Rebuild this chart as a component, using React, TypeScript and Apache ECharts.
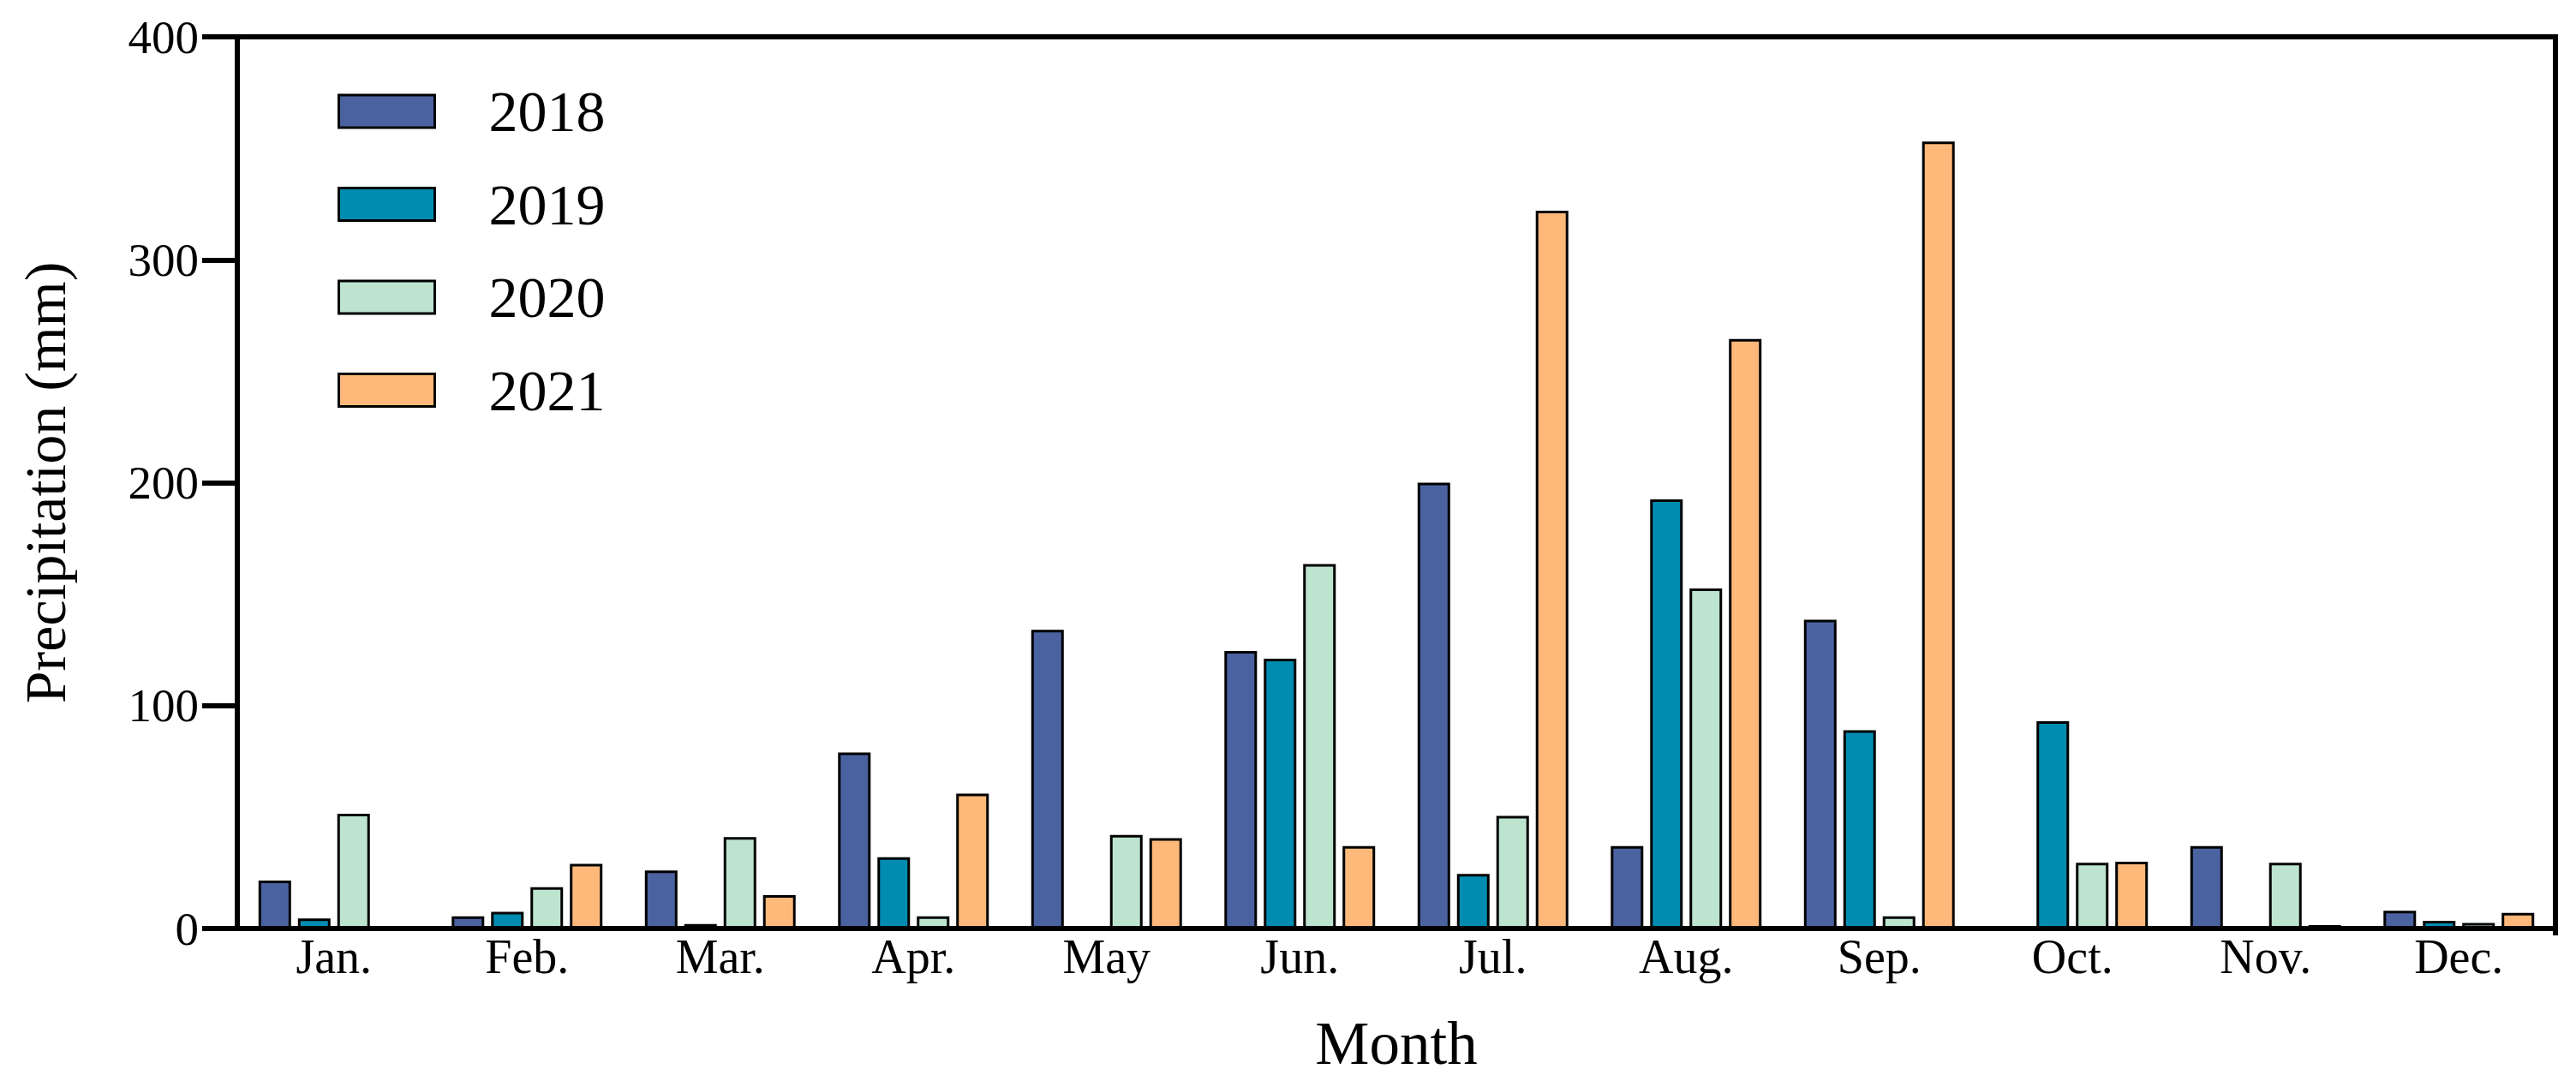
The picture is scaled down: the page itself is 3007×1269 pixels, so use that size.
import React, { useEffect, useRef } from "react";
import * as echarts from "echarts";

const months = ["Jan.", "Feb.", "Mar.", "Apr.", "May", "Jun.", "Jul.", "Aug.", "Sep.", "Oct.", "Nov.", "Dec."];
const years = ["2018", "2019", "2020", "2021"];
const p2018 = [21.5, 5.5, 26, 79, 134, 124.5, 200, 37, 138.5, 0, 37, 8];
const p2019 = [4.5, 7.5, 2, 32, 0, 121, 24.5, 192.5, 89, 93, 0, 3.5];
const p2020 = [51.5, 18.5, 41, 5.5, 42, 163.5, 50.5, 152.5, 5.5, 29.5, 29.5, 2.5];
const p2021 = [0.8, 29, 15, 60.5, 40.5, 37, 322, 264.5, 353, 30, 1.5, 7];
const yTicks = [0, 100, 200, 300, 400];
const colors = ["#4A62A0", "#008CB1", "#BDE4CF", "#FEB97A"];

const FONT = "'Liberation Serif', 'Times New Roman', serif";

export default function App() {
  const ref = useRef<HTMLDivElement>(null);
  useEffect(() => {
    if (!ref.current) return;
    const chart = echarts.init(ref.current, null, { renderer: "svg" });
    const seriesData = [p2018, p2019, p2020, p2021];
    chart.setOption({
      animation: false,
      backgroundColor: "#ffffff",
      textStyle: { fontFamily: FONT, color: "#000" },
      grid: {
        left: 277,
        right: 24,
        top: 43,
        bottom: 185,
        show: true,
        borderColor: "#000",
        borderWidth: 6,
        containLabel: false,
      },
      graphic: [
        {
          type: "line",
          shape: { x1: 2983, y1: 1080, x2: 2983, y2: 1092 },
          style: { stroke: "#000", lineWidth: 6 },
          z: 10,
        },
      ],
      legend: {
        orient: "vertical",
        left: 389,
        top: 91,
        itemWidth: 112,
        itemHeight: 38,
        itemGap: 40.5,
        icon: "rect",
        data: years,
        itemStyle: { borderColor: "#000", borderWidth: 3 },
        textStyle: { fontFamily: FONT, fontSize: 68, lineHeight: 68, color: "#000", padding: [0, 0, 0, 58] },
      },
      xAxis: {
        type: "category",
        data: months,
        name: "Month",
        nameLocation: "middle",
        nameGap: 98,
        nameTextStyle: { fontFamily: FONT, fontSize: 71, color: "#000" },
        axisLine: { show: true, lineStyle: { color: "#000", width: 6 } },
        axisTick: { show: false },
        axisLabel: { fontFamily: FONT, fontSize: 56, color: "#000", margin: 5 },
      },
      yAxis: {
        type: "value",
        min: yTicks[0],
        max: yTicks[yTicks.length - 1],
        interval: 100,
        name: "Precipitation (mm)",
        nameLocation: "middle",
        nameGap: 190,
        nameTextStyle: { fontFamily: FONT, fontSize: 68, color: "#000" },
        axisLine: { show: true, lineStyle: { color: "#000", width: 6 } },
        axisTick: { show: true, length: 41, lineStyle: { color: "#000", width: 6 } },
        axisLabel: { fontFamily: FONT, fontSize: 55, color: "#000", margin: 45 },
        splitLine: { show: false },
      },
      series: years.map((y, i) => ({
        name: y,
        type: "bar",
        data: seriesData[i],
        barWidth: 38,
        barGap: "21%",
        itemStyle: { color: colors[i], borderColor: "#000", borderWidth: 3 },
      })),
    });
    return () => chart.dispose();
  }, []);
  return (
    <div
      ref={ref}
      style={{ position: "fixed", left: 0, top: 0, width: 3007, height: 1269, background: "#fff" }}
    />
  );
}
